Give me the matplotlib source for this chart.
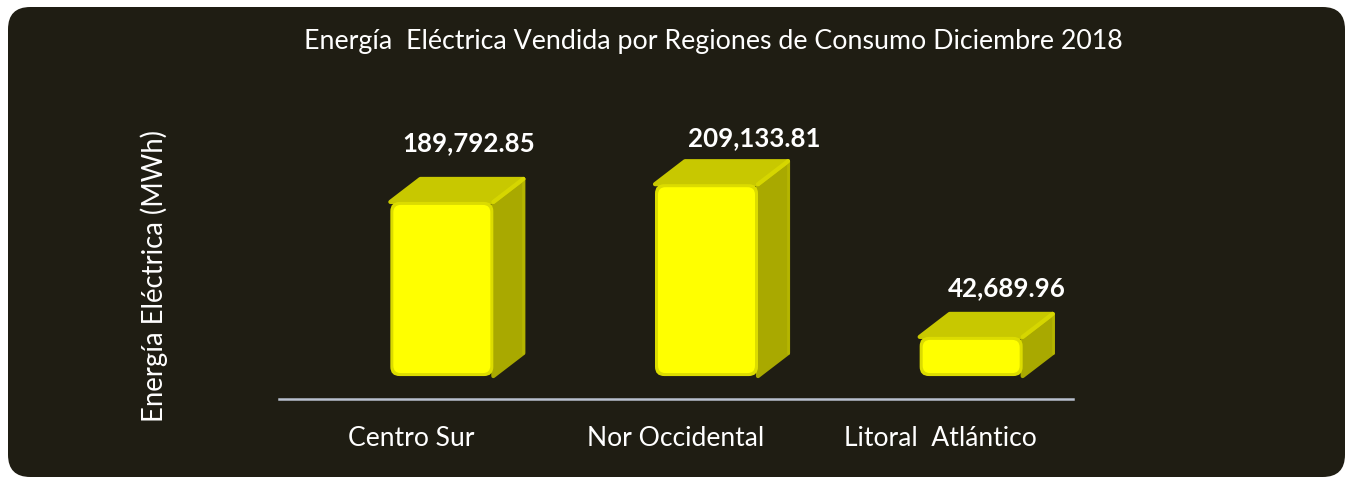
import matplotlib
matplotlib.use('Agg')
import matplotlib.pyplot as plt
from matplotlib.patches import FancyBboxPatch, Polygon

# ---------------- data ----------------
categories = ['Centro Sur', 'Nor Occidental', 'Litoral  Atlántico']
values = [189792.85, 209133.81, 42689.96]
value_labels = ['189,792.85', '209,133.81', '42,689.96']
title = 'Energía  Eléctrica Vendida por Regiones de Consumo Diciembre 2018'
ylabel = 'Energía Eléctrica (MWh)'

# ---------------- layout / style ----------------
W, H, DPI = 1351, 481, 100
BG = '#1f1d13'
FONT = ['Lato', 'DejaVu Sans']
plt.rcParams['font.family'] = FONT

fig = plt.figure(figsize=(W / DPI, H / DPI), dpi=DPI)
fig.patch.set_facecolor('white')


def fx(px):
    return px / W


def fy(py):
    return 1 - py / H


panel = FancyBboxPatch((fx(8), fy(478)), fx(1345) - fx(8), fy(8) - fy(478),
                       boxstyle='round,pad=0,rounding_size=0.0165',
                       mutation_aspect=W / H, transform=fig.transFigure,
                       facecolor=BG, edgecolor='none', zorder=-5)
fig.patches.append(panel)

ax = fig.add_axes([fx(279), fy(400), fx(1073) - fx(279), fy(100) - fy(400)])
ax.set_zorder(2)
ax.set_facecolor('none')
ax.set_xlim(-0.5, 2.5)
ax.set_ylim(-25000, 302000)
for s in ['top', 'left', 'right']:
    ax.spines[s].set_visible(False)
ax.spines['bottom'].set_color('#b9c0cf')
ax.spines['bottom'].set_linewidth(1.8)
ax.set_xticks([])
ax.set_yticks([])

# bar geometry (in data units)
x_units_per_px = 3.0 / 794
y_units_per_px = 327000 / 300
front_left = -21 * x_units_per_px
front_w = 103 * x_units_per_px
ddx = 30 * x_units_per_px
ddy = 23 * y_units_per_px
aspect = y_units_per_px / x_units_per_px

for i, v in enumerate(values):
    x0 = i + front_left
    x1 = x0 + front_w
    side = Polygon([(x1, 0), (x1 + ddx, ddy), (x1 + ddx, v + ddy), (x1, v)],
                   closed=True, facecolor='#a9a900', edgecolor='#a9a900',
                   linewidth=3, joinstyle='round', zorder=2)
    top = Polygon([(x0, v), (x0 + ddx, v + ddy), (x1 + ddx, v + ddy), (x1, v)],
                  closed=True, facecolor='#c8c800', edgecolor='#c8c800',
                  linewidth=3, joinstyle='round', zorder=2)
    ax.add_patch(side)
    ax.add_patch(top)
    ax.plot([x1, x1 + ddx], [v, v + ddy], color='#d6d600', linewidth=3,
            solid_capstyle='round', zorder=2.5)
    ax.plot([x1 + ddx, x1 + ddx], [v + ddy, ddy], color='#b5b500', linewidth=2,
            solid_capstyle='round', zorder=2.4)
    outer = FancyBboxPatch((x0, 0), front_w, v,
                           boxstyle='round,pad=0,rounding_size=0.035',
                           mutation_aspect=aspect, facecolor='#dcdc00',
                           edgecolor='none', zorder=3)
    ax.add_patch(outer)
    ins = 3 * x_units_per_px
    insy = 3 * y_units_per_px
    inner = FancyBboxPatch((x0 + ins, insy), front_w - 2 * ins, v - 2 * insy,
                           boxstyle='round,pad=0,rounding_size=0.028',
                           mutation_aspect=aspect, facecolor='#ffff00',
                           edgecolor='none', zorder=3.1)
    ax.add_patch(inner)

# ---------------- texts ----------------
renderer = fig.canvas.get_renderer()


def fit(texts, target_px):
    t0 = texts[0]
    bb = t0.get_window_extent(renderer)
    length = max(bb.width, bb.height) if t0.get_rotation() else bb.width
    scale = target_px / length
    for t in texts:
        t.set_fontsize(t.get_fontsize() * scale)


t_title = fig.text(fx(713.5), fy(49), title, ha='center', va='baseline',
                   color='white', fontsize=18)
fit([t_title], 815)

t_y = fig.text(fx(163), fy(276), ylabel, rotation=90, rotation_mode='anchor',
               ha='center', va='baseline', color='white', fontsize=18)
fit([t_y], 292)

cat_texts = []
for i, c in enumerate(categories):
    t = ax.annotate(c, xy=(i, 0), xycoords=('data', 'axes fraction'),
                    xytext=(0, -46 * 0.72), textcoords='offset points',
                    ha='center', va='baseline', color='white', fontsize=18,
                    annotation_clip=False)
    cat_texts.append(t)
fit([cat_texts[2]] + cat_texts[:2], 192)

label_dx_px = [57, 78, 66]
label_dy_px = [52, 39, 42]
val_texts = []
for i, (v, lab) in enumerate(zip(values, value_labels)):
    t = ax.annotate(lab, xy=(i, v), xycoords='data',
                    xytext=(label_dx_px[i] * 0.72, label_dy_px[i] * 0.72),
                    textcoords='offset points', ha='center', va='baseline',
                    color='white', fontsize=18, fontweight='bold',
                    annotation_clip=False)
    val_texts.append(t)
fit(val_texts, 133)

fig.savefig('out.png', dpi=DPI, facecolor='white')
